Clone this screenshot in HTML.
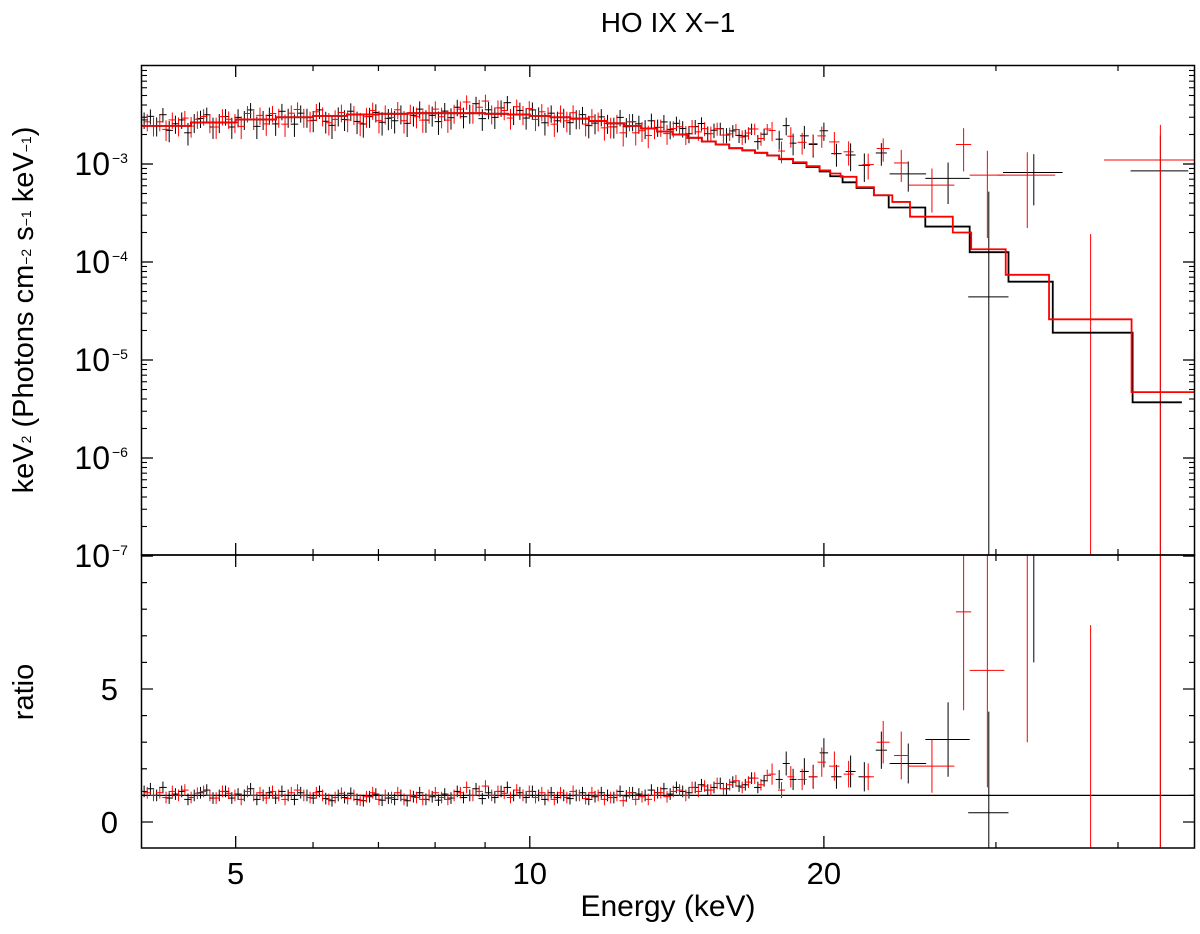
<!DOCTYPE html>
<html><head><meta charset="utf-8"><style>
html,body{margin:0;padding:0;background:#fff;overflow:hidden;width:1200px;height:934px;}
svg{display:block;font-family:"Liberation Sans",sans-serif;}
</style></head><body>
<svg id="chart" width="1200" height="934" viewBox="0 0 1200 934" xmlns="http://www.w3.org/2000/svg">
<defs>
<clipPath id="clipTop"><rect x="141" y="65" width="1054" height="490"/></clipPath>
<clipPath id="clipBot"><rect x="141" y="555" width="1054" height="293"/></clipPath>
</defs>
<text x="668" y="32" font-size="28" text-anchor="middle">HO IX X−1</text>
<text transform="translate(33,310) rotate(-90)" font-size="29" text-anchor="middle">keV<tspan font-size="14" dy="-2">2</tspan><tspan dy="2"> (Photons cm</tspan><tspan font-size="14" dy="-2">−2</tspan><tspan dy="2"> s</tspan><tspan font-size="14" dy="-2">−1</tspan><tspan dy="2"> keV</tspan><tspan font-size="14" dy="-2">−1</tspan><tspan dy="2">)</tspan></text>
<text transform="translate(33,692) rotate(-90)" font-size="29" text-anchor="middle">ratio</text>
<text x="668" y="916" font-size="30" text-anchor="middle">Energy (keV)</text>
<g id="axes"></g>
<g id="topData" clip-path="url(#clipTop)"></g>
<g id="botData" clip-path="url(#clipBot)"></g>
<rect x="141.5" y="65.5" width="1053" height="489.5" fill="none" stroke="#000" stroke-width="1.5"/>
<rect x="141.5" y="555" width="1053" height="293" fill="none" stroke="#000" stroke-width="1.5"/>
</svg>
<script>
// ---- data ----
const lowModelEdges = [4,4.5,5,5.5,6,6.5,7,7.5,8,8.5,9,9.5,10,10.5,11,11.5,12,12.5,13,13.5,14,14.5,15,15.5,16,16.5,17];
const lowModelValues = [2.45e-3,2.65e-3,2.85e-3,3.0e-3,3.1e-3,3.2e-3,3.25e-3,3.3e-3,3.3e-3,3.3e-3,3.25e-3,3.2e-3,3.1e-3,3.0e-3,2.9e-3,2.75e-3,2.6e-3,2.45e-3,2.3e-3,2.15e-3,2.0e-3,1.85e-3,1.7e-3,1.58e-3,1.45e-3,1.38e-3];
const blackTailEdges = [17,17.5,18,18.6,19.2,19.8,20.3,20.9,21.6,22.5,23.3,25.4,28.2,30.9,34.3,41.4,46.5];
const blackTailValues = [1.3e-3,1.22e-3,1.12e-3,1.02e-3,0.93e-3,0.84e-3,0.75e-3,6.5e-4,5.7e-4,4.8e-4,3.6e-4,2.3e-4,1.26e-4,6.3e-5,1.9e-5,3.7e-6];
const redTailEdges = [17,17.5,18,18.6,19.2,19.8,20.3,20.8,21.6,22.5,23.5,24.5,27.1,28.3,30.7,34.0,41.3,48];
const redTailValues = [1.3e-3,1.22e-3,1.13e-3,1.04e-3,0.95e-3,0.86e-3,0.8e-3,7.4e-4,5.8e-4,4.8e-4,4.1e-4,2.9e-4,2.0e-4,1.35e-4,7.4e-5,2.6e-5,4.7e-6];

const blackLowRatio = [1.15,1.25,1.0,1.3,0.9,1.05,1.15,0.85,1.0,1.1,1.2,0.9,1.0,1.15,0.9,1.05,1.0,1.25,0.85,1.0,
1.1,0.9,1.15,1.0,0.85,1.1,1.0,0.9,1.15,0.88,0.8,1.0,0.92,1.08,0.85,0.8,0.95,1.05,0.82,0.9,
0.85,1.0,0.8,0.95,1.1,0.85,0.95,0.82,1.05,0.9,1.15,0.92,1.0,1.25,0.88,1.1,0.92,1.15,1.3,1.0,
1.1,0.92,1.15,1.0,0.85,1.1,0.92,1.0,0.88,1.0,1.1,0.85,0.95,1.1,1.0,0.92,1.15,0.98,1.1,1.05,
1.0,1.2,1.1,1.25,1.05,1.3,1.15,1.1,1.3,1.4,1.2,1.3,1.45,1.25,1.5,1.35,1.4,1.65,1.3,1.55];
const redLowRatio = [1.1,1.0,1.1,0.92,1.15,1.0,1.2,0.92,1.08,1.15,1.0,0.9,1.15,1.08,1.0,0.85,1.15,1.0,1.1,0.9,
1.15,1.0,0.85,1.1,1.2,1.0,0.92,1.1,1.0,0.85,0.92,1.08,0.88,1.0,0.82,0.95,1.1,0.85,1.0,0.92,
1.1,0.85,1.0,0.92,0.85,1.0,1.1,0.92,0.85,1.0,1.1,1.3,1.0,1.15,1.35,1.0,1.15,1.08,0.92,1.2,
1.0,1.15,0.92,1.1,1.0,0.85,1.1,0.92,1.15,1.0,0.88,1.1,1.0,0.85,0.92,1.0,0.8,1.1,0.85,0.95,
0.85,1.0,1.1,0.95,1.15,1.2,1.0,1.3,1.15,1.35,1.2,1.45,1.25,1.4,1.55,1.3,1.5,1.65,1.4,1.75];
const lowStart = 4, lowEnd = 17.5, lowRatioErr = 0.22;

const blackHiE = [18.0,18.3,18.6,19.1,19.5,20.0,20.6,21.3,22.0,22.9,24.4,26.8,29.5,32.8,44.2];
const blackHiHW = [0.15,0.15,0.15,0.2,0.2,0.2,0.25,0.25,0.3,0.3,1.05,1.4,1.4,2.3,3.0];
const blackHiRatio = [1.6,2.2,1.6,1.9,1.7,2.6,1.7,1.9,1.7,2.7,2.2,3.1,0.35,13,230];
const blackHiErr = [0.35,0.45,0.4,0.5,0.45,0.55,0.45,0.6,0.55,0.7,0.75,1.4,3.8,7,300];
const redHiE = [17.7,18.1,18.5,19.0,19.5,19.9,20.5,21.2,22.2,23.0,24.0,25.8,27.8,29.4,32.3,37.5,44.2];
const redHiHW = [0.15,0.15,0.15,0.2,0.2,0.2,0.25,0.25,0.3,0.35,0.4,1.4,0.5,1.2,2.2,0.3,5.5];
const redHiRatio = [1.8,1.2,1.7,1.6,1.7,2.25,2.1,1.8,1.7,3.0,2.5,2.1,7.9,5.7,10.4,-2,234];
const redHiErr = [0.4,0.3,0.4,0.4,0.4,0.55,0.55,0.5,0.5,0.8,0.9,1.0,3.7,4.4,7.4,9.4,300];

// ---- axes functions ----
const X = E => 141 + 977*Math.log10(E/4);
const Yf = f => 164 - 98*(Math.log10(f)+3);
const Yr = r => 822 - 26.6*r;
const clampTop = y => Math.max(60, Math.min(560, y));
const clampBot = y => Math.max(550, Math.min(850, y));
const NS = "http://www.w3.org/2000/svg";
function mk(tag, attrs, parent){const e=document.createElementNS(NS,tag);for(const k in attrs)e.setAttribute(k,attrs[k]);parent.appendChild(e);return e;}

const blackEdges = lowModelEdges.concat(blackTailEdges.slice(1));
const blackVals = lowModelValues.concat(blackTailValues);
const redEdges = lowModelEdges.concat(redTailEdges.slice(1));
const redVals = lowModelValues.concat(redTailValues);
function modelAt(edges, vals, E){
  for(let i=0;i<vals.length;i++){ if(E<edges[i+1]) return vals[i]; }
  return vals[vals.length-1];
}

const axes = document.getElementById('axes');
const topG = document.getElementById('topData');
const botG = document.getElementById('botData');

const xMajor = [5,10,20], xMinor=[6,7,8,9,30,40];
xMajor.forEach(v=>{
  [[65,77],[555,567],[543,555],[848,836]].forEach(([a,b])=>{
    const t=mk('line',{x1:X(v),x2:X(v),y1:a,y2:b,stroke:'#000','stroke-width':1.3},axes);
    
    
  });
  const l=mk('text',{x:X(v),y:884,'font-size':31,'text-anchor':'middle'},axes);
  l.textContent=String(v);
  
  
});
xMinor.forEach(v=>{
  [[65,71],[555,561],[549,555],[848,842]].forEach(([a,b])=>{
    const t=mk('line',{x1:X(v),x2:X(v),y1:a,y2:b,stroke:'#000','stroke-width':1.2},axes);
    
    
  });
});
for(let d=-7; d<=-3; d++){
  const y=Yf(Math.pow(10,d));
  [[141,153],[1195,1183]].forEach(([a,b])=>{
    const t=mk('line',{x1:a,x2:b,y1:y,y2:y,stroke:'#000','stroke-width':1.3},axes);
    
    
  });
  const l=mk('text',{x:110,y:y+11,'font-size':32,'text-anchor':'end'},axes);
  l.textContent='10';
  
  
  const s=mk('text',{x:112,y:y-1,'font-size':14},axes);
  s.textContent='−'+(-d);
  
  
}
for(let d=-7; d<=-3; d++){
  for(let m=2;m<=9;m++){
    const f=m*Math.pow(10,d); const y=Yf(f);
    if(y<65) continue;
    [[141,147],[1195,1189]].forEach(([a,b])=>{
      const t=mk('line',{x1:a,x2:b,y1:y,y2:y,stroke:'#000','stroke-width':1.1},axes);
      
      
    });
  }
}
for(let r=-1;r<=10;r++){
  const y=Yr(r); if(y>848||y<555) continue;
  const len = (r%5===0)?12:6;
  [[141,141+len],[1195,1195-len]].forEach(([a,b])=>{
    const t=mk('line',{x1:a,x2:b,y1:y,y2:y,stroke:'#000','stroke-width':1.2},axes);
    
    
  });
}
[0,5].forEach(r=>{
  const l=mk('text',{x:118,y:Yr(r)+11,'font-size':31,'text-anchor':'end'},axes);
  l.textContent=String(r);
  
  
});

const u=mk('line',{x1:141,x2:1195,y1:Yr(1),y2:Yr(1),stroke:'#000','stroke-width':1.2},botG);



function buildPoints(lowRatio, offset, hiE, hiHW, hiR, hiErr){
  const pts=[]; const n=lowRatio.length; const q=Math.pow(lowEnd/lowStart,1/n);
  for(let i=0;i<n;i++){
    const E=lowStart*Math.pow(q,i+offset);
    pts.push({E:E,hw:E*(Math.sqrt(q)-1)*1.2,r:lowRatio[i],err:lowRatioErr});
  }
  for(let i=0;i<hiE.length;i++) pts.push({E:hiE[i],hw:hiHW[i],r:hiR[i],err:hiErr[i]});
  return pts;
}
const blackPts = buildPoints(blackLowRatio,0.5,blackHiE,blackHiHW,blackHiRatio,blackHiErr);
const redPts = buildPoints(redLowRatio,1.0,redHiE,redHiHW,redHiRatio,redHiErr);

function drawModel(edges, vals, color, name){
  let d='';
  for(let i=0;i<vals.length;i++){
    const y=Yf(vals[i]);
    d += (i===0?'M':'L')+X(edges[i])+','+y+' L'+Math.min(1195,X(edges[i+1]))+','+y+' ';
  }
  const p=mk('path',{d:d,fill:'none',stroke:color,'stroke-width':1.8},topG);
  
  
}
function drawPts(pts, edges, vals, color, name){
  pts.forEach(p=>{
    const m=modelAt(edges,vals,p.E);
    const x0=Math.max(141,X(p.E-p.hw)), x1=Math.min(1195,X(p.E+p.hw)), xc=X(p.E);
    const fc=p.r*m, fhi=(p.r+p.err)*m, flo=(p.r-p.err)*m;
    const yhi=clampTop(Yf(fhi)), ylo= flo>0?clampTop(Yf(flo)):560;
    const g=mk('g',{stroke:color,'stroke-width':1},topG);
    
    
    mk('line',{x1:xc,x2:xc,y1:yhi,y2:ylo},g);
    if(fc>0 && Yf(fc)>=60 && Yf(fc)<=560) mk('line',{x1:x0,x2:x1,y1:Yf(fc),y2:Yf(fc)},g);
    const g2=mk('g',{stroke:color,'stroke-width':1},botG);
    
    
    mk('line',{x1:xc,x2:xc,y1:clampBot(Yr(p.r+p.err)),y2:clampBot(Yr(p.r-p.err))},g2);
    if(Yr(p.r)>=550 && Yr(p.r)<=850) mk('line',{x1:x0,x2:x1,y1:Yr(p.r),y2:Yr(p.r)},g2);
  });
}
drawPts(blackPts, blackEdges, blackVals, '#000', 'black');
drawPts(redPts, redEdges, redVals, '#f00', 'red');
drawModel(blackEdges, blackVals, '#000', 'black-model');
drawModel(redEdges, redVals, '#f00', 'red-model');
</script>
</body></html>
